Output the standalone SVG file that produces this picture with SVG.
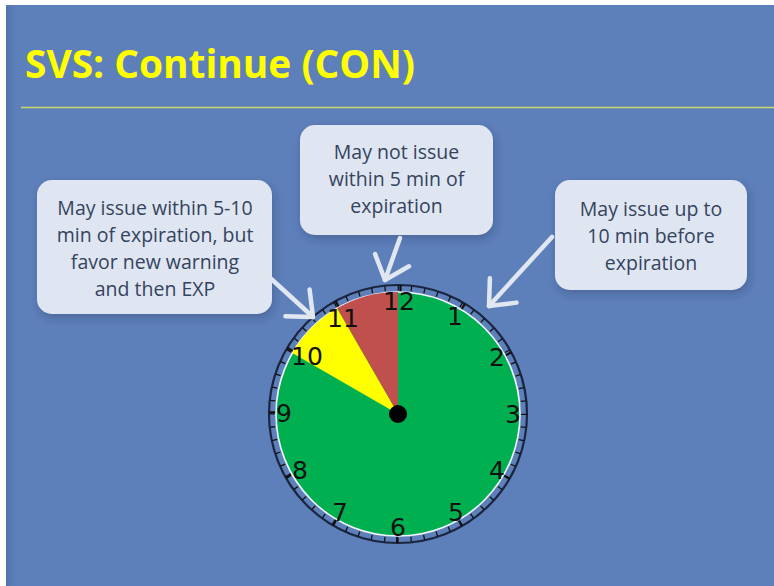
<svg xmlns="http://www.w3.org/2000/svg" width="774" height="586" viewBox="0 0 774 586">
<defs>
<style>
.title{font-family:"Open Sans","Liberation Sans",sans-serif;font-weight:700;font-size:39px;fill:#ffff00}
.box{fill:#dfe6f1;filter:url(#sh)}
.bt{font-family:"Open Sans","Liberation Sans",sans-serif;font-size:19.5px;fill:#34435e;text-anchor:middle}
.num{font-family:"DejaVu Sans","Liberation Sans",sans-serif;font-size:25px;fill:#111;text-anchor:middle;dominant-baseline:central}
.arr{fill:none;stroke:#e1e7f1;stroke-width:4.5;stroke-linecap:round;stroke-linejoin:round}
</style>
<filter id="sh" x="-20%" y="-20%" width="140%" height="150%">
<feDropShadow dx="2" dy="4" stdDeviation="5" flood-color="#1c2e55" flood-opacity="0.3"/>
</filter>
<marker id="chev" markerUnits="userSpaceOnUse" markerWidth="60" markerHeight="60" viewBox="-30 -30 60 60" refX="0" refY="0" orient="auto" overflow="visible">
<path d="M-21 -18 L0 0 L-21 18" fill="none" stroke="#e1e7f1" stroke-width="4.5" stroke-linecap="round" stroke-linejoin="round"/>
</marker>
<linearGradient id="lg" x1="0" x2="1" y1="0" y2="0">
<stop offset="0" stop-color="#4a6aa3" stop-opacity="0.6"/>
<stop offset="1" stop-color="#5e80ba" stop-opacity="0"/>
</linearGradient>
</defs>
<rect x="0" y="0" width="774" height="586" fill="#ffffff"/>
<rect x="6" y="5" width="768" height="581" fill="#5e80ba"/>
<rect x="6" y="5" width="14" height="581" fill="url(#lg)"/>
<text class="title" x="25" y="78" textLength="390" lengthAdjust="spacingAndGlyphs">SVS: Continue (CON)</text>
<line x1="21" y1="107.5" x2="774" y2="107.5" stroke="#c8d86a" stroke-width="1.5"/>

<g id="clock">
<circle cx="398" cy="414" r="129" fill="#5e80ba" stroke="#1b2540" stroke-width="2.2"/>
<circle cx="398" cy="414" r="126" fill="none" stroke="#111" stroke-width="5" stroke-dasharray="1.3 11.895" stroke-dashoffset="0.65"/>
<circle cx="398" cy="414" r="125.5" fill="none" stroke="#111" stroke-width="7" stroke-dasharray="2.2 63.77" stroke-dashoffset="1.1"/>
<circle cx="398" cy="414" r="122" fill="#00b050" stroke="#f2f6fb" stroke-width="1.6"/>
<path d="M398 414 L398 292 A122 122 0 0 0 337 308.3 Z" fill="#c0504d"/>
<path d="M398 414 L337 308.3 A122 122 0 0 0 292.3 353 Z" fill="#ffff00"/>
<text class="num" x="399" y="301">12</text>
<text class="num" x="455" y="316">1</text>
<text class="num" x="497" y="357.5">2</text>
<text class="num" x="513" y="414">3</text>
<text class="num" x="497" y="470.5">4</text>
<text class="num" x="456" y="512">5</text>
<text class="num" x="398" y="527">6</text>
<text class="num" x="340" y="512">7</text>
<text class="num" x="300" y="470.5">8</text>
<text class="num" x="284" y="413">9</text>
<text class="num" x="307" y="356">10</text>
<text class="num" x="343" y="318">11</text>
<circle cx="398" cy="414" r="9" fill="#000"/>
</g>

<g id="box-left">
<rect class="box" x="37" y="180" width="235" height="134" rx="15"/>
<text class="bt" x="155" y="215">May issue within 5-10</text>
<text class="bt" x="155" y="242">min of expiration, but</text>
<text class="bt" x="155" y="269">favor new warning</text>
<text class="bt" x="155" y="296">and then EXP</text>
</g>
<g id="box-middle">
<rect class="box" x="300" y="125" width="193" height="110" rx="15"/>
<text class="bt" x="396.5" y="159">May not issue</text>
<text class="bt" x="396.5" y="186">within 5 min of</text>
<text class="bt" x="396.5" y="213">expiration</text>
</g>
<g id="box-right">
<rect class="box" x="555" y="180" width="192" height="110" rx="15"/>
<text class="bt" x="651" y="216">May issue up to</text>
<text class="bt" x="651" y="243">10 min before</text>
<text class="bt" x="651" y="270">expiration</text>
</g>

<g id="connectors">
<path class="arr" d="M268 276 L313 317" marker-end="url(#chev)"/>
<path class="arr" d="M400 238 L385 280" marker-end="url(#chev)"/>
<path class="arr" d="M552 237 L489 306" marker-end="url(#chev)"/>
</g>
</svg>
